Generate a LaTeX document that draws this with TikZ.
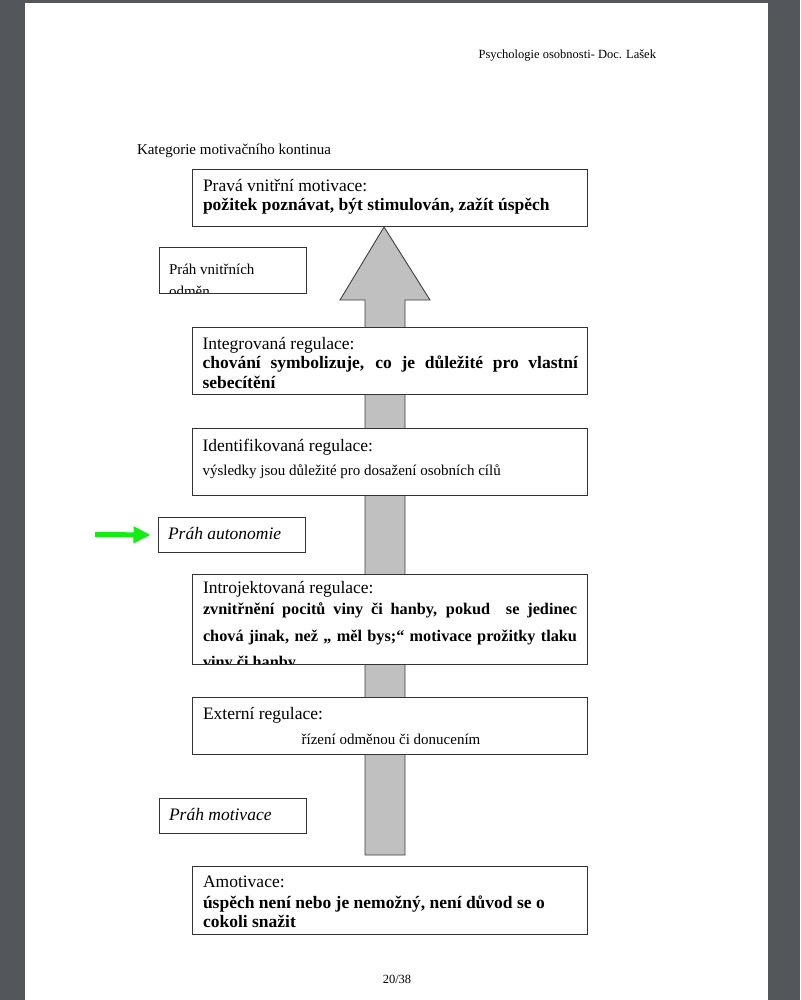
\documentclass[tikz,border=0pt]{standalone}
\usepackage{fontspec}
\setmainfont{Liberation Serif}
\usetikzlibrary{arrows.meta}

\definecolor{viewergrey}{HTML}{53565B}
\definecolor{shaftgrey}{HTML}{C0C0C0}
\definecolor{markgreen}{HTML}{12EE12}

\tikzset{
  boxline/.style={draw=black!80, line width=0.9pt},
  levelbox/.style={boxline, fill=white, anchor=north west, minimum width=394.5pt},
  thresholdbox/.style={boxline, fill=white, anchor=north west, minimum width=147pt},
  clipbox/.style={fill=white, anchor=north west},
  boxtext/.style={anchor=base west, text width=375.5pt, align=flush left},
  bigarrow/.style={fill=shaftgrey, draw=black!75, line width=0.9pt},
  greenarrow/.style={draw=markgreen, line width=5pt, -{Triangle[length=17pt,width=16pt]},
    shorten >=8pt}
}

\begin{document}
\begin{tikzpicture}[
    x=1pt, y=-1pt,
    line join=miter,
    every node/.style={inner sep=0pt, outer sep=0pt}
  ]
  \useasboundingbox (0,0) rectangle (800,1000);
  % Viewer background and page
  \fill[viewergrey] (0,0) rectangle (800,1000);
  \fill[white] (25,3) rectangle (768,1000);
  % Header and caption
  \node[anchor=base east, font=\fontsize{12.5}{14}\selectfont] (header) at (656,59)
    {Psychologie osobnosti- Doc. Lašek};
  \node[anchor=base west, font=\fontsize{15}{17}\selectfont] (caption) at (137,155)
    {Kategorie motivačního kontinua};
  % Big grey arrow behind the boxes
  \draw[bigarrow] (365,855) -- (365,300) -- (340,300) -- (384,227)
    -- (430,300) -- (405,300) -- (405,855) -- cycle;
  % Boxes
  \node[levelbox, minimum height=57pt] (prava) at (192.5,169.5) {};
  \node[clipbox, minimum width=147pt, minimum height=46pt] (vnitrni) at (159.5,247.5) {};
  \node[levelbox, minimum height=67pt] (integrovana) at (192.5,327.5) {};
  \node[levelbox, minimum height=67pt] (identifikovana) at (192.5,428.5) {};
  \node[thresholdbox, minimum height=35pt] (autonomie) at (158.5,517.5) {};
  \node[clipbox, minimum width=394.5pt, minimum height=90pt] (introjektovana) at (192.5,574.5) {};
  \node[levelbox, minimum height=57pt] (externi) at (192.5,697.5) {};
  \node[thresholdbox, minimum height=35pt] (motivace) at (159.5,798.5) {};
  \node[levelbox, minimum height=68pt] (amotivace) at (192.5,866.5) {};
  % Box texts
  \node[boxtext, font=\fontsize{17.5}{19}\selectfont] (pravatext) at (203,192)
    {Pravá vnitřní motivace:\\\bfseries požitek poznávat, být stimulován, zažít úspěch\par};
  \begin{scope}
    \clip (vnitrni.north west) rectangle ([yshift=0.5pt]vnitrni.south east);
    \node[anchor=base west, text width=130pt, align=flush left, font=\fontsize{15}{22}\selectfont]
      (vnitrnitext) at (169,274) {Práh vnitřních\\odměn\par};
  \end{scope}
  \draw[boxline] (vnitrni.north west) rectangle (vnitrni.south east);
  \node[boxtext, align=justify, font=\fontsize{17.5}{19.5}\selectfont] (integrovanatext) at (202.5,349)
    {Integrovaná regulace:\\\bfseries chování symbolizuje, co je důležité pro vlastní\linebreak sebecítění\par};
  \node[boxtext, font=\fontsize{17.5}{21}\selectfont] (identifikovanatext) at (202.5,451.5)
    {Identifikovaná regulace:\par\fontsize{15}{24}\selectfont
     výsledky jsou důležité pro dosažení osobních cílů\par};
  \node[anchor=base west, font=\fontsize{17.5}{19}\selectfont\itshape] (autonomietext) at (168,539)
    {Práh autonomie};
  \begin{scope}
    \clip (introjektovana.north west) rectangle ([yshift=0.5pt]introjektovana.south east);
    \node[boxtext, align=justify, text width=374pt, font=\fontsize{17.5}{20}\selectfont]
      (introjektovanatext) at (203,593.3)
      {Introjektovaná regulace:\par\vskip-5.3pt\fontsize{16.25}{26.5}\selectfont\bfseries
       zvnitřnění pocitů viny či hanby, pokud\ \ se jedinec\linebreak
       chová jinak, než „ měl bys;“ motivace prožitky tlaku\linebreak viny či hanby\par};
  \end{scope}
  \draw[boxline] (introjektovana.north west) rectangle (introjektovana.south east);
  \node[anchor=base west, font=\fontsize{17.5}{19}\selectfont] (externitext) at (203,719)
    {Externí regulace:};
  \node[anchor=base, font=\fontsize{15}{17}\selectfont] (externidesc) at (391,744)
    {řízení odměnou či donucením};
  \node[anchor=base west, font=\fontsize{17.5}{19}\selectfont\itshape] (motivacetext) at (169,820)
    {Práh motivace};
  \node[boxtext, font=\fontsize{17.5}{19}\selectfont] (amotivacetext) at (203,887)
    {Amotivace:\\[2pt]\bfseries úspěch není nebo je nemožný, není důvod se o\\cokoli snažit\par};
  % Green marker arrow
  \coordinate (greentail) at (95,534.5);
  \draw[greenarrow] (greentail) -- (autonomie.west);
  % Page number
  \node[anchor=base, font=\fontsize{12.5}{14}\selectfont] (pagenum) at (397,983) {20/38};
\end{tikzpicture}
\end{document}
